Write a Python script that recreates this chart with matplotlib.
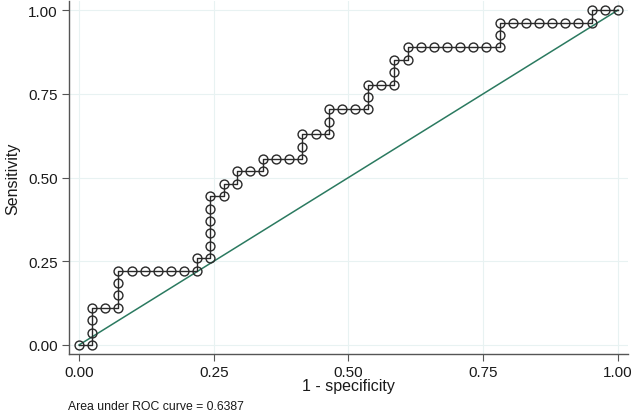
import numpy as np
import matplotlib.pyplot as plt

plt.rcParams['font.family'] = ['Liberation Sans', 'DejaVu Sans']

# ROC steps: counts of false positives (of 41) and true positives (of 27)
n_neg = 41
n_pos = 27
fp = [0, 1, 1, 1, 1, 2, 3, 3, 3, 3, 4, 5, 6, 7, 8, 9, 9, 10, 10, 10, 10, 10, 10,
      11, 11, 12, 12, 13, 14, 14, 15, 16, 17, 17, 17, 18, 19, 19, 19, 20, 21, 22,
      22, 22, 23, 24, 24, 24, 25, 25, 26, 27, 28, 29, 30, 31, 32, 32, 32, 33, 34,
      35, 36, 37, 38, 39, 39, 40, 41]
tp = [0, 0, 1, 2, 3, 3, 3, 4, 5, 6, 6, 6, 6, 6, 6, 6, 7, 7, 8, 9, 10, 11, 12,
      12, 13, 13, 14, 14, 14, 15, 15, 15, 15, 16, 17, 17, 17, 18, 19, 19, 19, 19,
      20, 21, 21, 21, 22, 23, 23, 24, 24, 24, 24, 24, 24, 24, 24, 25, 26, 26, 26,
      26, 26, 26, 26, 26, 27, 27, 27]
auc_text = "Area under ROC curve = 0.6387"
ticks = [0.0, 0.25, 0.5, 0.75, 1.0]

spec1 = np.array(fp) / n_neg
sens = np.array(tp) / n_pos

fig = plt.figure(figsize=(6.33, 4.14), dpi=100)
ax = fig.add_axes([0.109, 0.1425, 0.883, 0.8525])

ax.plot([0, 1], [0, 1], color='#2b7a60', lw=1.1, zorder=2)
ax.plot(spec1, sens, color='#2a2a2a', lw=1.0, marker='o', markersize=6.4,
        markerfacecolor='none', markeredgecolor='#2a2a2a', markeredgewidth=1.0, zorder=3)

ax.set_xlim(-0.0186, 1.0186)
ax.set_ylim(-0.027, 1.027)
ax.set_xticks(ticks)
ax.set_yticks(ticks)
ax.set_xticklabels(['%.2f' % t for t in ticks])
ax.set_yticklabels(['%.2f' % t for t in ticks])
ax.grid(True, color='#e8f2f2', lw=0.8, zorder=0)
ax.spines['top'].set_visible(False)
ax.spines['right'].set_visible(False)
for s in ['left', 'bottom']:
    ax.spines[s].set_color('#555555')
    ax.spines[s].set_linewidth(1.0)
ax.tick_params(direction='out', length=5, width=0.8, color='#555555',
               labelsize=11, labelcolor='#1a1a1a', pad=3)

ax.set_xlabel('1 - specificity', fontsize=11.5, color='#1a1a1a', labelpad=-1)
ax.set_ylabel('Sensitivity', fontsize=11.5, color='#1a1a1a', labelpad=6)
fig.text(0.108, 0.003, auc_text, fontsize=8.8, color='#1a1a1a', ha='left', va='bottom')

fig.savefig('out.png', dpi=100)
